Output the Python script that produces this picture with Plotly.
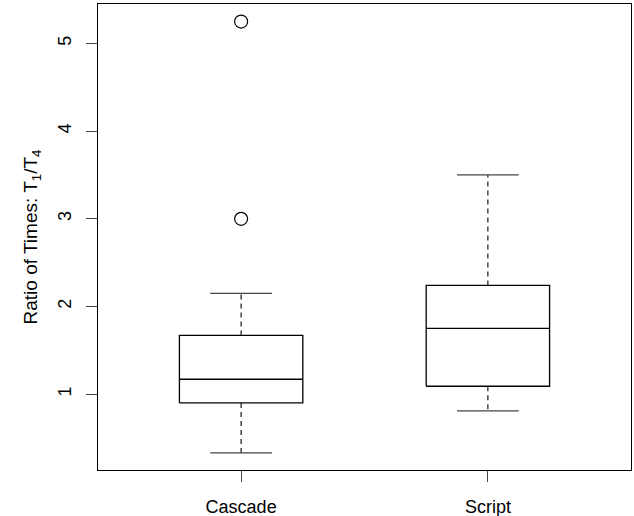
import plotly.graph_objects as go

categories = ["Cascade", "Script"]
lower_whisker = [0.33, 0.81]
q1 = [0.90, 1.09]
median = [1.17, 1.75]
q3 = [1.67, 2.24]
upper_whisker = [2.15, 3.50]
outlier_group = ["Cascade", "Cascade"]
outlier_values = [3.00, 5.25]
y_ticks = [1, 2, 3, 4, 5]

BOX_HALF = 0.25
CAP_HALF = 0.125
LINE_W = 1.3
FONT = "Liberation Sans, Arial, Helvetica, sans-serif"

fig = go.Figure()
for i, cat in enumerate(categories):
    x = i + 1
    # box
    fig.add_trace(go.Scatter(
        x=[x - BOX_HALF, x + BOX_HALF, x + BOX_HALF, x - BOX_HALF, x - BOX_HALF],
        y=[q1[i], q1[i], q3[i], q3[i], q1[i]],
        mode="lines", line=dict(color="black", width=LINE_W),
        showlegend=False, hoverinfo="skip"))
    # median
    fig.add_trace(go.Scatter(
        x=[x - BOX_HALF, x + BOX_HALF], y=[median[i], median[i]],
        mode="lines", line=dict(color="black", width=LINE_W),
        showlegend=False, hoverinfo="skip"))
    # whiskers (dashed)
    fig.add_trace(go.Scatter(
        x=[x, x, None, x, x],
        y=[q3[i], upper_whisker[i], None, q1[i], lower_whisker[i]],
        mode="lines", line=dict(color="black", width=1.1, dash="5px,4px"),
        showlegend=False, hoverinfo="skip"))
    # caps
    fig.add_trace(go.Scatter(
        x=[x - CAP_HALF, x + CAP_HALF, None, x - CAP_HALF, x + CAP_HALF],
        y=[upper_whisker[i], upper_whisker[i], None, lower_whisker[i], lower_whisker[i]],
        mode="lines", line=dict(color="#444444", width=LINE_W),
        showlegend=False, hoverinfo="skip"))

fig.add_trace(go.Scatter(
    x=[categories.index(g) + 1 for g in outlier_group], y=outlier_values,
    mode="markers",
    marker=dict(symbol="circle-open", size=13, color="black", line=dict(width=1.2)),
    showlegend=False))

fig.update_layout(
    width=634, height=516,
    margin=dict(l=98, r=3, t=4, b=46, autoexpand=False),
    paper_bgcolor="white", plot_bgcolor="white",
    font=dict(family=FONT, size=18, color="black"),
    xaxis=dict(
        range=[0.42, 2.58], tickvals=[1, 2], ticktext=categories,
        ticks="outside", ticklen=11, tickcolor="#444444", tickwidth=1,
        showline=True, mirror=True, linecolor="black", linewidth=1.2,
        showgrid=False, zeroline=False, ticklabelstandoff=9, automargin=False),
    yaxis=dict(
        range=[0.135, 5.45], tickvals=y_ticks, ticktext=[str(v) for v in y_ticks],
        tickangle=-90,
        ticks="outside", ticklen=11, tickcolor="#444444", tickwidth=1,
        showline=True, mirror=True, linecolor="black", linewidth=1.2,
        showgrid=False, zeroline=False, ticklabelstandoff=8, automargin=False,
        title=dict(text="Ratio of Times: T<sub>1</sub>/T<sub>4</sub>", standoff=12,
                   font=dict(size=19))),
)

fig.write_html("out.html", config={"displayModeBar": False},
               post_script="document.body.style.margin='0';")
